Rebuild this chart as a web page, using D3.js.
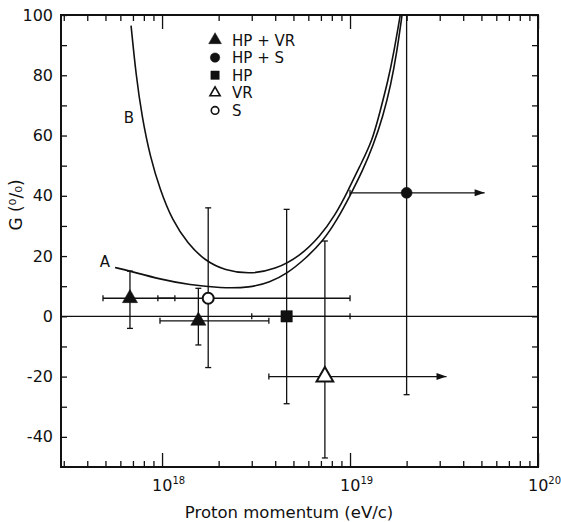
<!DOCTYPE html>
<html>
  <head>
    <title>G versus proton momentum</title>
    <style type="text/css">
        body { margin: 0; background: #fff; }
        svg { display: block; }
        text { font-family: "DejaVu Sans", sans-serif; fill: #111; }
    </style>
  </head>
  <body>
    <svg width="561" height="522"></svg>
    <script src="https://d3js.org/d3.v7.min.js"></script>
    <script>

    // Legend / series names
    var seriesNames = ["HP + VR", "HP + S", "HP", "VR", "S"];

    // Data points (momentum in eV/c, G in %)
    var pointP      = [6.75e17, 1.56e18, 2.0e19, 4.6e18, 7.35e18, 1.76e18];
    var pointG      = [6, -1.5, 41, 0, -20, 6];
    var pointSeries = [0, 0, 1, 2, 3, 4];
    var gLow        = [-4, -9.5, -26, -29, -47, -17];
    var gHigh       = [15, 9.3, 130, 35.5, 25, 36];
    var pLow        = [4.85e17, 9.75e17, 1.0e19, 3.0e18, 3.7e18, 9.5e17];
    var pHigh       = [1.17e18, 3.7e18, 5.2e19, 1.0e19, 3.26e19, 1.0e19];
    var lowerLimit  = [false, false, true, false, true, false];

    // Curve A
    var curveAP = [5.62e17, 6.76e17, 9.76e17, 1.41e18, 2.04e18, 2.94e18, 3.75e18, 4.62e18, 5.76e18, 7.19e18, 8.53e18, 1.0e19, 1.17e19, 1.325e19, 1.50e19, 1.65e19, 1.768e19, 1.891e19];
    var curveAG = [16.2, 15.0, 12.3, 10.4, 9.4, 9.5, 11.3, 14.2, 19, 25, 32, 40, 48.5, 56.5, 66.5, 77, 87, 100];

    // Curve B
    var curveBP = [6.84e17, 7.27e17, 7.83e17, 8.64e17, 9.76e17, 1.13e18, 1.375e18, 1.69e18, 2.16e18, 2.94e18, 3.99e18, 5.42e18, 6.92e18, 8.32e18, 9.64e18, 1.13e19, 1.31e19, 1.445e19, 1.59e19, 1.71e19, 1.85e19];
    var curveBG = [96.5, 80, 66, 53, 42, 32, 24, 18.5, 15.2, 14, 15.5, 20, 26.5, 33.5, 41, 50, 58, 68, 78, 87.5, 100];

    // Axis ticks
    var yTicks = [-40, -30, -20, -10, 0, 10, 20, 30, 40, 50, 60, 70, 80, 90, 100];
    var decades = [1e18, 1e19, 1e20];
    var decadeExp = ["18", "19", "20"];

    var svg = d3.select("svg"),
        margin = {top: 15, right: 23, bottom: 55, left: 61},
        width = +svg.attr("width") - margin.left - margin.right,
        height = +svg.attr("height") - margin.top - margin.bottom;

    var x = d3.scaleLog()
        .domain([2.9e17, 1e20])
        .range([0, width]);

    var y = d3.scaleLinear()
        .domain([-50, 100])
        .range([height, 0]);

    var g = svg.append("g")
        .attr("transform", "translate(" + margin.left + "," + margin.top + ")");

    svg.append("defs").append("clipPath")
        .attr("id", "plot")
      .append("rect")
        .attr("width", width)
        .attr("height", height);

    // minor log ticks
    var minorTicks = [];
    [1e17, 1e18, 1e19].forEach(function(d) {
        for (var k = 2; k < 10; k++) {
            if (d * k > x.domain()[0]) minorTicks.push(d * k);
        }
    });

    function noDomain(sel) { sel.select(".domain").remove(); }

    // Left and right axes
    g.append("g")
        .attr("class", "axis")
        .call(d3.axisLeft(y).tickValues(yTicks).tickSizeInner(-6).tickSizeOuter(0).tickPadding(8)
            .tickFormat(function(d) { return d % 20 === 0 ? String(d) : ""; }))
        .call(noDomain);

    g.append("g")
        .attr("transform", "translate(" + width + ",0)")
        .call(d3.axisRight(y).tickValues(yTicks).tickSizeInner(-6).tickSizeOuter(0).tickFormat(""))
        .call(noDomain);

    // Bottom and top axes
    g.append("g")
        .attr("transform", "translate(0," + height + ")")
        .call(d3.axisBottom(x).tickValues(minorTicks).tickSizeInner(-6).tickSizeOuter(0).tickFormat(""))
        .call(noDomain);
    g.append("g")
        .attr("transform", "translate(0," + height + ")")
        .call(d3.axisBottom(x).tickValues(decades).tickSizeInner(-14).tickSizeOuter(0).tickFormat(""))
        .call(noDomain);
    g.append("g")
        .call(d3.axisTop(x).tickValues(minorTicks).tickSizeInner(-6).tickSizeOuter(0).tickFormat(""))
        .call(noDomain);
    g.append("g")
        .call(d3.axisTop(x).tickValues(decades).tickSizeInner(-14).tickSizeOuter(0).tickFormat(""))
        .call(noDomain);

    g.selectAll(".tick line").attr("stroke", "#111").attr("stroke-width", 1.3);
    g.selectAll(".axis .tick text")
        .style("font-family", "DejaVu Sans")
        .style("font-size", "16px")
        .attr("fill", "#111");

    // Decade labels 10^n
    var dl = g.selectAll(".dlabel")
        .data(decades)
      .enter().append("text")
        .attr("class", "dlabel")
        .attr("x", function(d) { return x(d) - 10; })
        .attr("y", height + 24)
        .style("font-size", "16px");
    dl.append("tspan").text("10");
    dl.append("tspan")
        .attr("dy", -7)
        .style("font-size", "10px")
        .text(function(d, i) { return decadeExp[i]; });

    // Frame
    g.append("rect")
        .attr("width", width)
        .attr("height", height)
        .attr("fill", "none")
        .attr("stroke", "#111")
        .attr("stroke-width", 2);

    // Axis titles
    g.append("text")
        .attr("x", x(1e18) + 127)
        .attr("y", height + 51)
        .attr("text-anchor", "middle")
        .style("font-size", "16.5px")
        .text("Proton momentum (eV/c)");

    svg.append("text")
        .attr("transform", "translate(22,205) rotate(-90)")
        .attr("text-anchor", "middle")
        .style("font-size", "17px")
        .text("G (\u2070/\u2080)");

    var plot = g.append("g").attr("clip-path", "url(#plot)");

    // Zero line
    plot.append("line")
        .attr("x1", 0).attr("x2", width)
        .attr("y1", y(0)).attr("y2", y(0))
        .attr("stroke", "#111")
        .attr("stroke-width", 1.3);

    // Curves
    var line = d3.line()
        .x(function(d) { return x(d[0]); })
        .y(function(d) { return y(d[1]); })
        .curve(d3.curveBasis);

    plot.append("path")
        .datum(d3.zip(curveAP, curveAG))
        .attr("d", line)
        .attr("fill", "none")
        .attr("stroke", "#111")
        .attr("stroke-width", 1.6);

    plot.append("path")
        .datum(d3.zip(curveBP, curveBG))
        .attr("d", line)
        .attr("fill", "none")
        .attr("stroke", "#111")
        .attr("stroke-width", 1.6);

    g.append("text")
        .attr("x", x(curveAP[0]) - 5)
        .attr("y", y(curveAG[0]) - 1)
        .attr("text-anchor", "end")
        .style("font-size", "15px")
        .text("A");

    g.append("text")
        .attr("x", x(curveBP[2]) - 8)
        .attr("y", y(curveBG[2]) + 6)
        .attr("text-anchor", "end")
        .style("font-size", "15px")
        .text("B");

    // Error bars
    var idx = d3.range(pointP.length);
    var bars = plot.append("g")
        .attr("stroke", "#111")
        .attr("stroke-width", 1.3)
        .attr("fill", "#111");

    idx.forEach(function(i) {
        var px = x(pointP[i]), py = y(pointG[i]);
        // vertical
        bars.append("line")
            .attr("x1", px).attr("x2", px)
            .attr("y1", y(gLow[i])).attr("y2", y(gHigh[i]));
        [gLow[i], gHigh[i]].forEach(function(v) {
            bars.append("line")
                .attr("x1", px - 3).attr("x2", px + 3)
                .attr("y1", y(v)).attr("y2", y(v));
        });
        // horizontal
        bars.append("line")
            .attr("x1", x(pLow[i])).attr("x2", x(pHigh[i]))
            .attr("y1", py).attr("y2", py);
        bars.append("line")
            .attr("x1", x(pLow[i])).attr("x2", x(pLow[i]))
            .attr("y1", py - 3).attr("y2", py + 3);
        if (lowerLimit[i]) {
            var tx = x(pHigh[i]);
            bars.append("path")
                .attr("stroke", "none")
                .attr("d", "M" + tx + "," + py + "L" + (tx - 10) + "," + (py - 3.5) + "L" + (tx - 10) + "," + (py + 3.5) + "Z");
        } else {
            bars.append("line")
                .attr("x1", x(pHigh[i])).attr("x2", x(pHigh[i]))
                .attr("y1", py - 3).attr("y2", py + 3);
        }
    });

    // Marker styles by series
    var symbolType = [d3.symbolTriangle, d3.symbolCircle, d3.symbolSquare, d3.symbolTriangle, d3.symbolCircle];
    var symbolSize = [100, 95, 130, 120, 95];
    var filled = [true, true, true, false, false];

    plot.selectAll(".pt")
        .data(idx)
      .enter().append("path")
        .attr("class", "pt")
        .attr("transform", function(i) { return "translate(" + x(pointP[i]) + "," + y(pointG[i]) + ")"; })
        .attr("d", function(i) { var s = pointSeries[i]; return d3.symbol(symbolType[s], symbolSize[s])(); })
        .attr("fill", function(i) { return filled[pointSeries[i]] ? "#111" : "#fff"; })
        .attr("stroke", "#111")
        .attr("stroke-width", function(i) { return filled[pointSeries[i]] ? 0.5 : 2; });

    // Legend
    var legend = g.append("g")
        .attr("transform", "translate(" + (x(1e18) + 53) + ",25)");

    var rows = legend.selectAll(".row")
        .data(seriesNames)
      .enter().append("g")
        .attr("transform", function(d, i) { return "translate(0," + (i * 17.6) + ")"; });

    rows.append("path")
        .attr("d", function(d, i) { return d3.symbol(symbolType[i], i >= 3 ? 45 : 70)(); })
        .attr("fill", function(d, i) { return filled[i] ? "#111" : "#fff"; })
        .attr("stroke", "#111")
        .attr("stroke-width", function(d, i) { return filled[i] ? 0.5 : 1.6; });

    rows.append("text")
        .attr("x", 17)
        .attr("y", 5.5)
        .style("font-size", "15px")
        .text(function(d) { return d; });

    </script>
  </body>
</html>
